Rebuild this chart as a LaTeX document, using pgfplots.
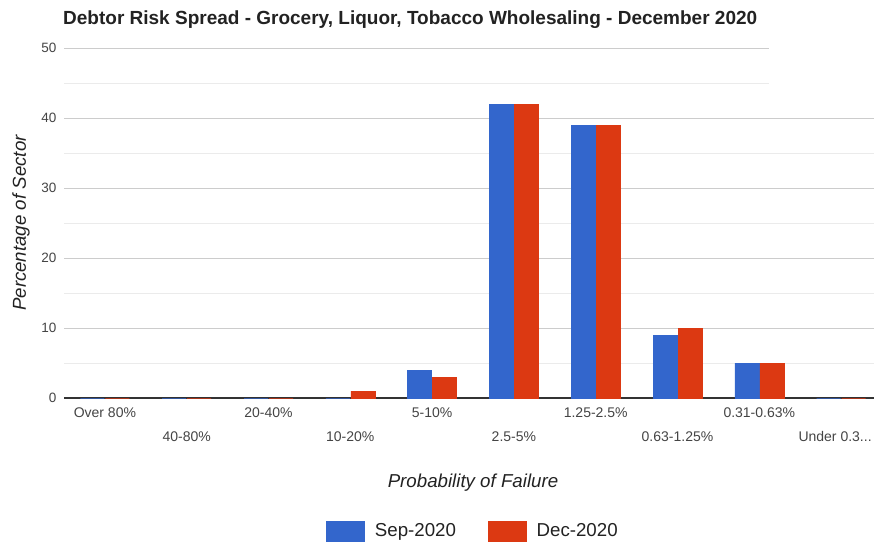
\documentclass[border=0pt]{standalone}
\usepackage{pgfplots}
\pgfplotsset{compat=1.18}
\usepackage{fontspec}
\setmainfont{Liberation Sans}
\definecolor{gblue}{HTML}{3366CC}
\definecolor{gred}{HTML}{DC3912}
\definecolor{majgrid}{HTML}{CCCCCC}
\definecolor{mingrid}{HTML}{EBEBEB}
\definecolor{txtgray}{HTML}{444444}
\definecolor{txtdark}{HTML}{222222}
\pgfplotstableread{
x sep dec
0 0 0
1 0 0
2 0 0
3 0 1
4 4 3
5 42 42
6 39 39
7 9 10
8 5 5
9 0 0
}\riskdata
\begin{document}
\begin{tikzpicture}[x=1pt,y=1pt]
\path[use as bounding box] (0,0) rectangle (874,542);
\begin{axis}[
  at={(64pt,144pt)}, anchor=south west,
  scale only axis, width=818pt, height=350pt,
  xmin=-0.5, xmax=9.5, ymin=0, ymax=50,
  ybar=1pt, bar width=24pt,
  axis x line*=bottom, axis y line*=left,
  x axis line style={draw=black!80, line width=1.2pt},
  y axis line style={draw=none},
  major tick length=0pt, minor tick length=0pt,
  ytick={0,10,20,30,40,50},
  minor ytick={5,15,25,35,45},
  ymajorgrids, yminorgrids,
  major grid style={draw=majgrid, line width=1pt},
  minor grid style={draw=mingrid, line width=1pt},
  /pgf/number format/assume math mode=true,
  yticklabel style={font=\fontsize{13.5}{15}\selectfont, text=txtgray, xshift=-4pt},
  xtick={0,2,4,6,8},
  xticklabels={Over 80\%, 20-40\%, 5-10\%, 1.25-2.5\%, 0.31-0.63\%},
  xticklabel style={font=\fontsize{14}{16}\selectfont, text=txtgray, anchor=north, inner sep=0pt, text height=10pt, text depth=3pt, yshift=-9pt},
  extra x ticks={1,3,5,7,9},
  extra x tick labels={40-80\%, 10-20\%, 2.5-5\%, 0.63-1.25\%, {Under 0.3{.}{.}{.}\hspace*{12pt}}},
  extra x tick style={grid=none, xticklabel style={yshift=-24pt}},
  xlabel={Probability of Failure},
  ylabel={Percentage of Sector},
  every axis x label/.style={at={(rel axis cs:0.5,0)}, yshift=-85pt, anchor=center, font=\fontsize{18.7}{20}\itshape, text=txtdark},
  every axis y label/.style={at={(rel axis cs:0,0.5)}, xshift=-43pt, rotate=90, anchor=center, font=\fontsize{18.7}{20}\itshape, text=txtdark},
  legend columns=2,
  legend style={at={(rel axis cs:0.5,0)}, yshift=-133pt, anchor=center, draw=none, fill=none, inner sep=0pt,
    font=\fontsize{18.7}{20}\selectfont, text=txtdark,
    /tikz/every odd column/.append style={column sep=8pt},
    /tikz/every even column/.append style={column sep=30pt}},
  legend image code/.code={\fill[#1] (0pt,-10pt) rectangle (38pt,10pt);},
]
\addplot[fill=gblue, draw=gblue, line width=0.6pt] table[x=x, y=sep] {\riskdata};
\addplot[fill=gred, draw=gred, line width=0.6pt] table[x=x, y=dec] {\riskdata};
\legend{Sep-2020, Dec-2020}
\end{axis}
\fill[white] (769,452) rectangle (874,502);
\node[anchor=base west, inner sep=0pt, font=\fontsize{19}{21}\selectfont\bfseries, text=txtdark] at (63,517) {Debtor Risk Spread - Grocery, Liquor, Tobacco Wholesaling - December 2020};
\end{tikzpicture}
\end{document}
